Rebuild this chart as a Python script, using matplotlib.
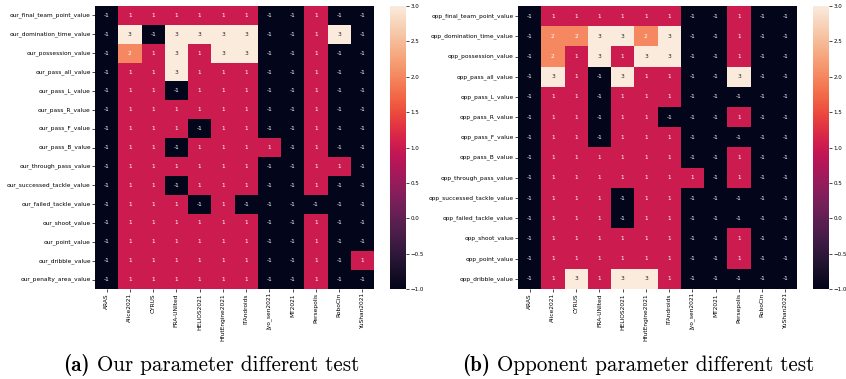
import matplotlib
matplotlib.use("Agg")
import matplotlib.pyplot as plt
import seaborn as sns
import numpy as np
import pandas as pd

teams = ["ARAS", "Alice2021", "CYRUS", "FRA-UNIted", "HELIOS2021", "HfutEngine2021",
         "ITAndroids", "Jyo_sen2021", "MT2021", "Persepolis", "RoboCin", "YuShan2021"]

our_rows = ["our_final_team_point_value", "our_domination_time_value", "our_possession_value",
            "our_pass_all_value", "our_pass_L_value", "our_pass_R_value", "our_pass_F_value",
            "our_pass_B_value", "our_through_pass_value", "our_successed_tackle_value",
            "our_failed_tackle_value", "our_shoot_value", "our_point_value",
            "our_dribble_value", "our_penalty_area_value"]

our_values = [
    [-1, 1, 1, 1, 1, 1, 1, -1, -1, 1, -1, -1],
    [-1, 3, -1, 3, 3, 3, 3, -1, -1, 1, 3, -1],
    [-1, 2, 1, 3, 1, 3, 3, -1, -1, 1, -1, -1],
    [-1, 1, 1, 3, 1, 1, 1, -1, -1, 1, -1, -1],
    [-1, 1, 1, -1, 1, 1, 1, -1, -1, 1, -1, -1],
    [-1, 1, 1, 1, 1, 1, 1, -1, -1, 1, -1, -1],
    [-1, 1, 1, 1, -1, 1, 1, -1, -1, 1, -1, -1],
    [-1, 1, 1, -1, 1, 1, 1, 1, -1, 1, -1, -1],
    [-1, 1, 1, 1, 1, 1, 1, -1, -1, 1, 1, -1],
    [-1, 1, 1, -1, 1, 1, 1, -1, -1, 1, -1, -1],
    [-1, 1, 1, 1, -1, 1, -1, -1, -1, -1, -1, -1],
    [-1, 1, 1, 1, 1, 1, 1, -1, -1, 1, -1, -1],
    [-1, 1, 1, 1, 1, 1, 1, -1, -1, 1, -1, -1],
    [-1, 1, 1, 1, 1, 1, 1, -1, -1, 1, -1, 1],
    [-1, 1, 1, 1, 1, 1, 1, -1, -1, 1, -1, -1],
]

opp_rows = ["opp_final_team_point_value", "opp_domination_time_value", "opp_possession_value",
            "opp_pass_all_value", "opp_pass_L_value", "opp_pass_R_value", "opp_pass_F_value",
            "opp_pass_B_value", "opp_through_pass_value", "opp_successed_tackle_value",
            "opp_failed_tackle_value", "opp_shoot_value", "opp_point_value",
            "opp_dribble_value"]

opp_values = [
    [-1, 1, 1, 1, 1, 1, 1, -1, -1, 1, -1, -1],
    [-1, 2, 2, 3, 3, 2, 3, -1, -1, 1, -1, -1],
    [-1, 2, 1, 3, 1, 3, 3, -1, -1, 1, -1, -1],
    [-1, 3, 1, -1, 3, 1, 1, -1, -1, 3, -1, -1],
    [-1, 1, 1, -1, 1, 1, 1, -1, -1, -1, -1, -1],
    [-1, 1, 1, -1, 1, 1, -1, -1, -1, 1, -1, -1],
    [-1, 1, 1, -1, 1, 1, 1, -1, -1, -1, -1, -1],
    [-1, 1, 1, 1, 1, 1, 1, -1, -1, 1, -1, -1],
    [-1, 1, 1, 1, 1, 1, 1, 1, -1, 1, -1, -1],
    [-1, 1, 1, 1, -1, 1, 1, -1, -1, -1, -1, -1],
    [-1, 1, 1, 1, -1, 1, 1, -1, -1, -1, -1, -1],
    [-1, 1, 1, 1, 1, 1, 1, -1, -1, 1, -1, -1],
    [-1, 1, 1, 1, 1, 1, 1, -1, -1, 1, -1, -1],
    [-1, 1, 3, 1, 3, 3, 1, -1, -1, -1, -1, -1],
]

captions = [("(a)", "Our parameter different test"),
            ("(b)", "Opponent parameter different test")]

W, H = 846, 379
fig = plt.figure(figsize=(W / 100, H / 100), dpi=100)

def px_axes(x0, y0, x1, y1):
    return fig.add_axes([x0 / W, 1 - y1 / H, (x1 - x0) / W, (y1 - y0) / H])

layouts = [
    ((95, 6, 374, 289), (390, 6, 406, 289)),
    ((518, 6, 797, 289), (813, 6, 829, 289)),
]

datasets = [(our_rows, our_values), (opp_rows, opp_values)]

for (rows, vals), (hbox, cbox) in zip(datasets, layouts):
    ax = px_axes(*hbox)
    cax = px_axes(*cbox)
    df = pd.DataFrame(vals, index=rows, columns=teams)
    sns.heatmap(df, ax=ax, cbar_ax=cax, annot=True, fmt="d",
                annot_kws={"size": 4.2})
    ax.tick_params(axis="both", labelsize=4.2, length=2, width=0.5, pad=1)
    ax.set_xticklabels(teams, rotation=90)
    ax.set_yticklabels(rows, rotation=0)
    cax.set_yticks([-1.0, -0.5, 0.0, 0.5, 1.0, 1.5, 2.0, 2.5, 3.0])
    cax.tick_params(labelsize=4.0, length=2, width=0.5, pad=1)
    for sp in cax.spines.values():
        sp.set_visible(False)

cap_pos = [63, 462]
cap_y = 1 - 371 / H
fs = 15.2
for (lab, txt), x0 in zip(captions, cap_pos):
    t1 = fig.text(x0 / W, cap_y, lab, family="cmb10", fontsize=fs, va="baseline", ha="left")
    fig.canvas.draw()
    bb = t1.get_window_extent()
    fig.text((bb.x1 + 7) / W, cap_y, txt, family="cmr10", fontsize=fs, va="baseline", ha="left")

fig.savefig("out.png", dpi=100)
